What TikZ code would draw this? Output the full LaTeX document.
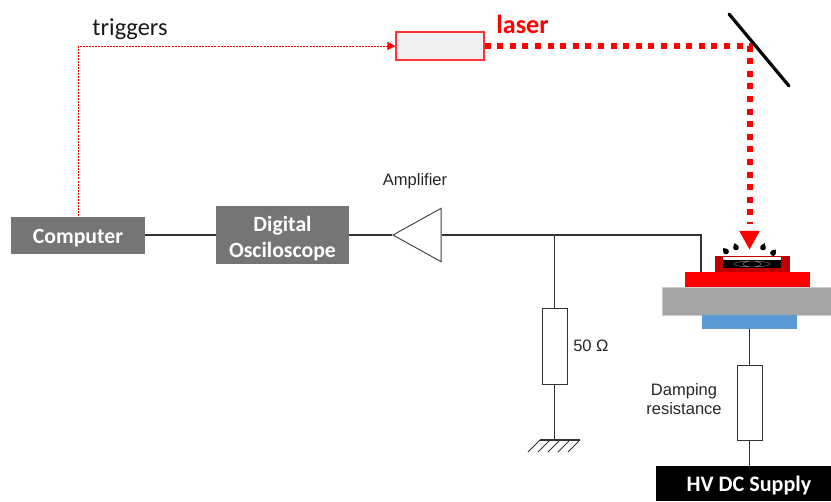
\documentclass[tikz,border=0pt]{standalone}
\usepackage{fontspec}
\setmainfont{Carlito}
\newfontfamily\labelfont{Liberation Sans}
\usetikzlibrary{arrows.meta,shapes.geometric}
\definecolor{boxgrey}{HTML}{757575}
\definecolor{basegrey}{HTML}{A5A5A5}
\definecolor{coolblue}{HTML}{5B9BD5}
\definecolor{holderred}{HTML}{C00000}
\definecolor{beamred}{HTML}{FF0000}
\tikzset{
  instb/.style={fill=boxgrey, text=white, align=center, inner sep=0pt,
    font=\fontsize{16.3}{20}\selectfont\bfseries},
  resb/.style={draw=black!80, fill=white, line width=0.7pt, inner sep=0pt,
    minimum width=18.75pt},
  layerb/.style={inner sep=0pt},
  wire/.style={draw=black!80, line width=0.85pt},
  beam/.style={draw=beamred, line width=4.5pt, dash pattern=on 4.5pt off 4.95pt},
  trig/.style={-{Triangle[length=6pt,width=6pt]}, draw=beamred, line width=0.6pt,
    dash pattern=on 1.5pt off 0.8pt},
  flab/.style={font=\labelfont\fontsize{12.4}{14.25}\selectfont, text=black!85,
    align=center, inner sep=0pt},
}

\begin{document}
\begin{tikzpicture}[x=0.75pt, y=-0.75pt]
  \useasboundingbox (0,0) rectangle (831,501);
  \node[instb, minimum width=100.5pt, minimum height=27.75pt, text height=16pt, text depth=3pt] (computer) at (78,235) {Computer};
  \node[instb, minimum width=99.75pt, minimum height=43.5pt] (scope) at (282.5,235) {\rule{0pt}{17pt}Digital\\Osciloscope};
  \node[draw=black!75, fill=white, line width=0.7pt, isosceles triangle, isosceles triangle apex angle=58,
    shape border rotate=180, inner sep=0pt, minimum height=35pt, minimum width=40pt, anchor=apex] (amp) at (392,235) {};
  \node[flab, anchor=center] (amplabel) at (415,181.5) {Amplifier};

  \node[draw=beamred!80, fill=black!6, line width=0.8pt, inner sep=0pt,
    minimum width=66pt, minimum height=21pt] (laserbox) at (440,46) {};
  \node[font=\fontsize{19.6}{22}\selectfont\bfseries, text=beamred, inner sep=0pt] (laserlabel) at (522.5,24) {laser};
  \node[font=\fontsize{18.3}{22}\selectfont, text=black!90, inner sep=0pt] (triglabel) at (130,29) {triggers};

  \node[layerb, fill=basegrey, draw=black!20, line width=0.4pt, minimum width=126.75pt, minimum height=21pt] (base) at (746.5,301) {};
  \node[layerb, fill=beamred, minimum width=93.75pt, minimum height=11.25pt] (plate) at (747.5,279.5) {};
  \node[layerb, fill=coolblue, minimum width=71.25pt, minimum height=10.5pt] (cooler) at (749.5,322) {};
  \node[layerb, fill=holderred, minimum width=56.25pt, minimum height=12pt] (holder) at (752.5,264) {};
  \node[layerb, fill=white, minimum width=43.5pt, minimum height=3pt] (gap) at (752,258.5) {};
  \node[layerb, fill=black, minimum width=43.5pt, minimum height=6pt] (sample) at (752,264) {};
  \draw[black!45, line width=0.3pt] (sample.center) ellipse (18 and 3) (sample.center) ellipse (9 and 3);
  \node[fill=beamred, isosceles triangle, isosceles triangle apex angle=58, shape border rotate=270,
    inner sep=0pt, minimum height=14pt, minimum width=15pt, anchor=apex] (spot) at (749.5,250) {};
  \foreach \dx/\dy/\rot in {726/251.5/40, 736/247.5/20, 763/247.5/-20, 773/253/-40}
    \fill[black, shift={(\dx,\dy)}, rotate=\rot] (0,0) circle (2.9) (-2.7,-1) -- (0,-4.6) -- (2.7,-1) -- cycle;

  \node[resb, minimum height=57pt] (rfifty) at (554.5,346) {};
  \node[flab, anchor=west] (rfiftylabel) at (573,346) {50 Ω};
  \node[resb, minimum height=56.25pt] (rdamp) at (749.5,402.5) {};
  \node[flab] (rdamplabel) at (684,399) {Damping\hspace{4.5pt}\\resistance};
  \node[fill=black, inner sep=0pt, minimum width=131.25pt, minimum height=26.25pt] (supply) at (743.5,483.5) {};
  \node[text=white, inner sep=0pt, font=\fontsize{16.6}{20}\selectfont\bfseries] (supplylabel) at (749,485) {HV DC Supply};

  \coordinate (junction) at (554.5,235);
  \coordinate (plateport) at (701,272);
  \coordinate (gnd) at (554.5,440);
  \coordinate (bend) at (749.5,46);
  \coordinate (mirrora) at (729,14);
  \coordinate (mirrorb) at (789,86);

  \draw[wire] (computer) -- (scope);
  \draw[wire] (scope) -- (amp.apex);
  \draw[wire] (amp.lower side) -- (junction) -| (plateport);
  \draw[wire] (junction) -- (rfifty);
  \draw[wire] (rfifty) -- (gnd);
  \draw[wire] (cooler) -- (rdamp);
  \draw[wire] (rdamp) -- (supply.north -| rdamp);
  \draw[wire] (540,440) -- (580,440);
  \foreach \hx in {540,550,560,570,580}
    \draw[wire, line width=0.7pt] (\hx,440) -- ++(-12,12);

  \draw[trig] (computer.north) |- (laserbox.west);
  \draw[beam, shorten >=5pt] (laserbox.east) -- (bend) -- (spot.lower side);
  \draw[black, line width=2.4pt, line cap=round] (mirrora) -- (mirrorb);
\end{tikzpicture}
\end{document}
